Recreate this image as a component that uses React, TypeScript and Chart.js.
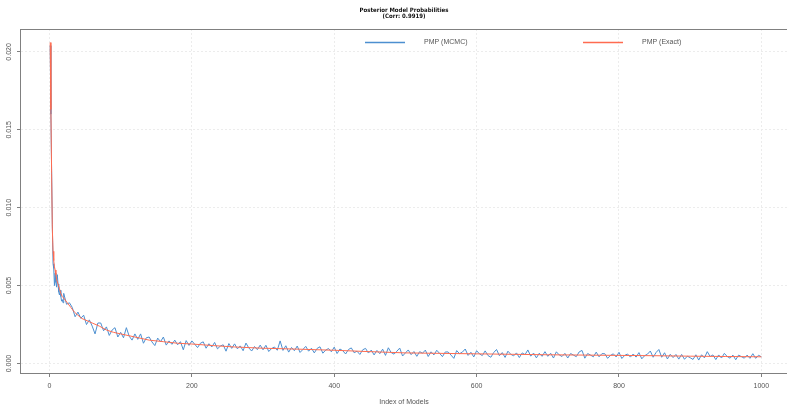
import React, { useEffect, useRef } from "react";
import { Chart, registerables } from "chart.js";

Chart.register(...registerables);

const chartTitle = ["Posterior Model Probabilities", "(Corr: 0.9919)"];
const xAxisTitle = "Index of Models";
const seriesNames = ["PMP (MCMC)", "PMP (Exact)"];
const xTicks = [0, 200, 400, 600, 800, 1000];
const yTicks = [0, 0.005, 0.01, 0.015, 0.02];
const yTickLabels = ["0.000", "0.005", "0.010", "0.015", "0.020"];

const exactIndex = [1, 2, 3, 4, 5, 6, 7, 8, 9, 10, 12, 14, 16, 18, 20, 25, 30, 35, 40, 45, 50, 60, 70, 80, 90, 100, 120, 140, 160, 180, 200, 230, 260, 300, 350, 400, 450, 500, 550, 600, 650, 700, 750, 800, 850, 900, 950, 1000];
const exactValues = [0.0206, 0.0163, 0.0122, 0.0087, 0.0072, 0.0066, 0.0062, 0.006, 0.0057, 0.0054, 0.0051, 0.0048, 0.0045, 0.0043, 0.0042, 0.0039, 0.0036, 0.0033, 0.0031, 0.0029, 0.0028, 0.0026, 0.0024, 0.00215, 0.002, 0.0019, 0.0017, 0.0015, 0.0014, 0.0013, 0.00125, 0.00115, 0.00106, 0.00098, 0.00092, 0.00085, 0.00076, 0.00068, 0.00065, 0.00062, 0.00059, 0.00056, 0.00054, 0.00052, 0.0005, 0.00047, 0.00045, 0.00043];

// MCMC: indices 1..19 individually, then every 4th index from 20 to 1000
const mcmcHeadIndex = [1, 2, 3, 4, 5, 6, 7, 8, 9, 10, 11, 12, 13, 14, 15, 16, 17, 18, 19];
const mcmcHeadValues = [0.0204, 0.016, 0.0124, 0.0089, 0.0064, 0.0061, 0.005, 0.0058, 0.0052, 0.0049, 0.0057, 0.0051, 0.0046, 0.0044, 0.0047, 0.0043, 0.004, 0.0041, 0.0039];
const mcmcTailStart = 20;
const mcmcTailStep = 4;
const mcmcTailValues = [
  0.0045, 0.0038, 0.0039, 0.0036, 0.003, 0.0033, 0.0029, 0.0031, 0.0025, 0.0028,
  0.0024, 0.0019, 0.0026, 0.0026, 0.0021, 0.00235, 0.0018, 0.00215, 0.0023, 0.0017,
  0.002, 0.00165, 0.0023, 0.00175, 0.0015, 0.0019, 0.00155, 0.0019, 0.0013, 0.00165,
  0.0017, 0.00138, 0.00115, 0.00163, 0.0014, 0.0017, 0.00118, 0.00145, 0.00123, 0.0015,
  0.0012, 0.0014, 0.00088, 0.00147, 0.00116, 0.00145, 0.00124, 0.00102, 0.0013, 0.00139,
  0.00098, 0.00127, 0.00106, 0.00135, 0.00094, 0.00112, 0.0012, 0.00079, 0.00128, 0.00097,
  0.00126, 0.00094, 0.00113, 0.00082, 0.00131, 0.001, 0.0008, 0.00109, 0.00089, 0.00118,
  0.00088, 0.00117, 0.00077, 0.00096, 0.00106, 0.00085, 0.00145, 0.00084, 0.00114, 0.00073,
  0.00103, 0.00082, 0.00112, 0.00071, 0.0009, 0.0011, 0.00079, 0.00098, 0.00068, 0.00097,
  0.00107, 0.00066, 0.00086, 0.00096, 0.00075, 0.00105, 0.00064, 0.00093, 0.00082, 0.00061,
  0.0009, 0.001, 0.00069, 0.00079, 0.00058, 0.00088, 0.00097, 0.00067, 0.00086, 0.00055,
  0.00084, 0.00063, 0.00092, 0.00052, 0.00101, 0.0007, 0.0006, 0.00079, 0.00099, 0.00048,
  0.00068, 0.00087, 0.00057, 0.00077, 0.00046, 0.00076, 0.00066, 0.00086, 0.00045, 0.00075,
  0.00055, 0.00085, 0.00065, 0.00044, 0.00074, 0.00074, 0.00054, 0.00033, 0.00083, 0.00063,
  0.00073, 0.00093, 0.00052, 0.00072, 0.00042, 0.00082, 0.00062, 0.00051, 0.00081, 0.00051,
  0.0004, 0.0007, 0.0009, 0.0005, 0.0007, 0.00039, 0.00079, 0.00059, 0.00049, 0.00068,
  0.00038, 0.00068, 0.00057, 0.00087, 0.00047, 0.00067, 0.00036, 0.00066, 0.00046, 0.00076,
  0.00046, 0.00066, 0.00035, 0.00075, 0.00055, 0.00045, 0.00065, 0.00035, 0.00064, 0.00054,
  0.00044, 0.00074, 0.00084, 0.00034, 0.00064, 0.00054, 0.00043, 0.00073, 0.00043, 0.00063,
  0.00063, 0.00033, 0.00052, 0.00062, 0.00042, 0.00072, 0.00032, 0.00052, 0.00061, 0.00041,
  0.00061, 0.00041, 0.0007, 0.0003, 0.0005, 0.0006, 0.0008, 0.0004, 0.0007, 0.0009,
  0.0004, 0.00069, 0.00029, 0.00059, 0.00038, 0.00058, 0.00028, 0.00058, 0.00027, 0.00047,
  0.00037, 0.00026, 0.00056, 0.00022, 0.00056, 0.00036, 0.00076, 0.00045, 0.00055, 0.00025,
  0.00055, 0.00035, 0.00065, 0.00045, 0.00034, 0.00054, 0.00024, 0.00054, 0.00044, 0.00034,
  0.00054, 0.00033, 0.00063, 0.00033, 0.00053, 0.00043,
];

const BLUE = "#4C8FD0";
const RED = "#FF6B50";
const TEXT = "#555555";
const FONT = "Arial, 'Liberation Sans', sans-serif";

const decorPlugin = {
  id: "decor",
  afterDraw(chart: any) {
    const ctx = chart.ctx as CanvasRenderingContext2D;
    const { left, right, top, bottom } = chart.chartArea;
    const cx = (left + right) / 2;
    ctx.save();
    ctx.setLineDash([]);
    ctx.strokeStyle = "#808080";
    ctx.lineWidth = 1;
    ctx.strokeRect(left - 0.5, top + 0.5, right - left + 1, bottom - top);
    ctx.fillStyle = "#111";
    ctx.font = "bold 6px 'Liberation Sans Narrow', 'DejaVu Sans Condensed', Arial, sans-serif";
    ctx.textAlign = "center";
    ctx.textBaseline = "middle";
    ctx.fillText(chartTitle[0], cx, 10.3);
    ctx.fillText(chartTitle[1], cx, 16.7);
    ctx.fillStyle = TEXT;
    ctx.font = "7px " + FONT;
    const ys = chart.scales.y;
    yTicks.forEach((v, i) => {
      const py = ys.getPixelForValue(v);
      ctx.save();
      ctx.translate(9.5, py);
      ctx.rotate(-Math.PI / 2);
      ctx.textAlign = "center";
      ctx.textBaseline = "middle";
      ctx.fillText(yTickLabels[i], 0, 0);
      ctx.restore();
    });
    ctx.textAlign = "center";
    ctx.textBaseline = "middle";
    ctx.fillText(xAxisTitle, cx, 402.5);
    const ly = 42.5;
    const items = [
      { color: BLUE, x0: 365, x1: 405, tx: 424, text: seriesNames[0] },
      { color: RED, x0: 583, x1: 623, tx: 642, text: seriesNames[1] },
    ];
    items.forEach((it) => {
      ctx.strokeStyle = it.color;
      ctx.lineWidth = 1.5;
      ctx.beginPath();
      ctx.moveTo(it.x0, ly);
      ctx.lineTo(it.x1, ly);
      ctx.stroke();
      ctx.fillStyle = TEXT;
      ctx.textAlign = "left";
      ctx.fillText(it.text, it.tx, ly);
    });
    ctx.restore();
  },
};

const gridOpts: any = {
  color: "#ececec",
  lineWidth: 1,
  borderDash: [2, 2],
  tickColor: "#808080",
  tickLength: 4,
  tickBorderDash: [],
};

export default function App() {
  const ref = useRef<HTMLCanvasElement | null>(null);
  useEffect(() => {
    document.body.style.margin = "0";
    const mcmc = mcmcHeadIndex.map((x, i) => ({ x, y: mcmcHeadValues[i] })).concat(
      mcmcTailValues.map((y, i) => ({ x: mcmcTailStart + i * mcmcTailStep, y }))
    );
    const exact = exactIndex.map((x, i) => ({ x, y: exactValues[i] }));
    const chart = new Chart(ref.current as HTMLCanvasElement, {
      type: "line",
      data: {
        datasets: [
          { label: seriesNames[0], data: mcmc, borderColor: BLUE, borderWidth: 1, pointRadius: 0, tension: 0, order: 1 },
          { label: seriesNames[1], data: exact, borderColor: RED, borderWidth: 1, pointRadius: 0, tension: 0, order: 0 },
        ],
      },
      options: {
        animation: false,
        responsive: false,
        layout: { padding: { top: 29, left: 0, right: 0, bottom: 0 } },
        plugins: { legend: { display: false }, title: { display: false }, tooltip: { enabled: false } },
        scales: {
          x: {
            type: "linear",
            min: -40,
            max: 1036,
            afterBuildTicks: (s: any) => {
              s.ticks = xTicks.map((v) => ({ value: v }));
            },
            afterFit: (s: any) => {
              s.height = 32;
            },
            grid: gridOpts,
            border: { display: false, dash: [2, 2] } as any,
            ticks: {
              color: TEXT,
              font: { size: 7, family: FONT },
              padding: 5,
              maxRotation: 0,
              autoSkip: false,
              callback: (v: any) => String(v),
            },
          },
          y: {
            type: "linear",
            min: -0.00061,
            max: 0.02147,
            afterBuildTicks: (s: any) => {
              s.ticks = yTicks.map((v) => ({ value: v }));
            },
            afterFit: (s: any) => {
              s.width = 21;
            },
            grid: gridOpts,
            border: { display: false, dash: [2, 2] } as any,
            ticks: { display: false },
          },
        },
      },
      plugins: [decorPlugin],
    });
    return () => chart.destroy();
  }, []);
  return (
    <div style={{ position: "absolute", left: 0, top: 0, width: 787, height: 405 }}>
      <canvas ref={ref} width={787} height={405} style={{ display: "block" }} />
    </div>
  );
}
